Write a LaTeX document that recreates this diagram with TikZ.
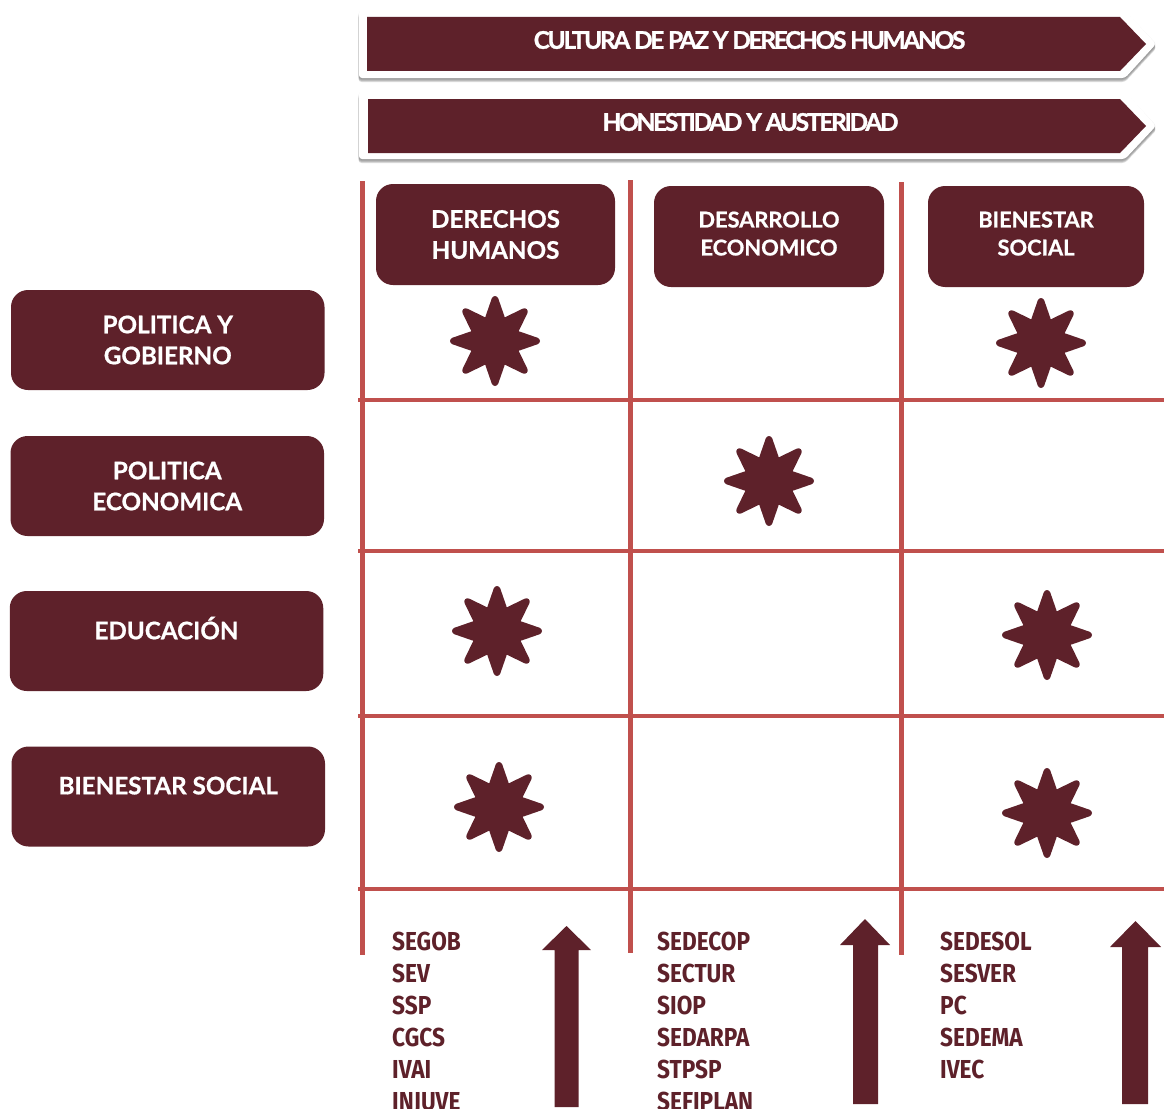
\documentclass[tikz,border=0pt]{standalone}
\usepackage{fontspec}
\setmainfont[BoldFeatures={FakeBold=0.8}]{Lato}
\newfontfamily\codefont[FakeStretch=0.87]{Fira Sans}
\newfontfamily\bannerfont[LetterSpace=-9,BoldFeatures={FakeBold=1.4}]{Lato}
\definecolor{wine}{HTML}{5E212A}
\definecolor{gridred}{HTML}{C0504D}
\tikzset{
  x=1pt,y=-1pt,
  box/.style={fill=wine,rounded corners=17pt,inner sep=0pt,text=white,align=center,font=\bfseries\fontsize{24.2}{31}\selectfont},
  boxb/.style={box,font=\bfseries\fontsize{21.8}{28}\selectfont},
  sidebox/.style={box,minimum width=313.5pt,minimum height=100pt},
  gridv/.style={draw=gridred,line width=5pt},
  gridh/.style={draw=gridred,line width=4pt},
  banner/.style={fill=wine},
  bannerbase/.style={fill=white,rounded corners=3pt},
  bannertext/.style={text=white,font=\bannerfont\bfseries\fontsize{24.3}{30}\selectfont,inner sep=0pt},
  codes/.style={anchor=north west,inner sep=0pt,align=left,text=wine,font=\codefont\bfseries\fontsize{26}{32}\selectfont},
  uparrow/.style={fill=wine},
  spark/.pic={
    \fill[wine] (0,0) circle (26);
    \foreach \r in {0,45,...,315}{
      \fill[wine,rounded corners=2.5pt,rotate=\r] (-2.4,-45) -- (2.4,-45) -- (10.2,-22.5) -- (0,0) -- (-10.2,-22.5) -- cycle;
    }
  },
}
\begin{document}
\begin{tikzpicture}
\clip (0,0) rectangle (1164,1108);
\useasboundingbox (0,0) rectangle (1164,1108);
% banners
\foreach \o/\a in {0/0.06,1/0.08,2/0.10,3/0.14,4/0.14}{
  \fill[black,opacity=\a,rounded corners=3pt] (358.5,11+\o) -- (1125,11+\o) -- (1156.5,44+\o) -- (1125,78+\o) -- (358.5,78+\o) -- cycle;
  \fill[black,opacity=\a,rounded corners=3pt] (358.5,92+\o) -- (1125,92+\o) -- (1156.5,126+\o) -- (1125,159+\o) -- (358.5,159+\o) -- cycle;
}
\fill[bannerbase] (359,10) -- (1125,10) -- (1156,44) -- (1125,78) -- (359,78) -- cycle;
\fill[bannerbase] (359,91) -- (1125,91) -- (1156,126) -- (1125,159) -- (359,159) -- cycle;
\fill[banner] (367,17) -- (1120,17) -- (1146,44) -- (1120,71) -- (367,71) -- cycle;
\fill[banner] (368,99) -- (1120,99) -- (1146,126) -- (1120,153) -- (368,153) -- cycle;
\node[bannertext] (b1) at (749.5,40) {CULTURA DE PAZ Y DERECHOS HUMANOS};
\node[bannertext] (b2) at (750.5,122) {HONESTIDAD Y AUSTERIDAD};
% grid
\draw[gridv] (362.5,181) -- (362.5,955);
\draw[gridv] (630.5,180) -- (630.5,953);
\draw[gridv] (901,182) -- (901,955);
\foreach \y in {400,551,716,889}{\draw[gridh] (358,\y) -- (1164,\y);}
% column heads
\node[box,minimum width=239pt,minimum height=101pt] (c1) at (495.5,234.5) {DERECHOS\\HUMANOS};
\node[boxb,minimum width=230pt,minimum height=101pt,text depth=6pt] (c2) at (769,236.5) {DESARROLLO\\ECONOMICO};
\node[boxb,minimum width=216pt,minimum height=101pt,text depth=6pt] (c3) at (1036,236.5) {BIENESTAR\\SOCIAL};
% row heads
\node[sidebox] (r1) at (167.75,340) {POLITICA Y\\GOBIERNO};
\node[sidebox] (r2) at (167.25,486) {POLITICA\\ECONOMICA};
\node[sidebox,text depth=26pt] (r3) at (166.5,641) {EDUCACIÓN};
\node[sidebox,text depth=22pt] (r4) at (168.25,796.5) {BIENESTAR SOCIAL};
% stars
\pic at (495,341) {spark};
\pic at (1041,343) {spark};
\pic at (769,481) {spark};
\pic at (497,631) {spark};
\pic at (1047,635) {spark};
\pic at (499,807) {spark};
\pic at (1047,813) {spark};
% lists
\node[codes] (l1) at (392,931.5) {SEGOB\\SEV\\SSP\\CGCS\\IVAI\\INJUVE};
\node[codes] (l2) at (657,931.5) {SEDECOP\\SECTUR\\SIOP\\SEDARPA\\STPSP\\SEFIPLAN};
\node[codes] (l3) at (940,931.5) {SEDESOL\\SESVER\\PC\\SEDEMA\\IVEC};
% arrows
\fill[uparrow] (566.5,926) -- (591,950) -- (578.5,950) -- (578.5,1107) -- (554.5,1107) -- (554.5,950) -- (542,950) -- cycle;
\fill[uparrow] (865,919) -- (890,945) -- (878,945) -- (878,1104) -- (853,1104) -- (853,945) -- (840,945) -- cycle;
\fill[uparrow] (1135.5,921) -- (1161,947) -- (1148,947) -- (1148,1104) -- (1122,1104) -- (1122,947) -- (1110,947) -- cycle;
\end{tikzpicture}
\end{document}
